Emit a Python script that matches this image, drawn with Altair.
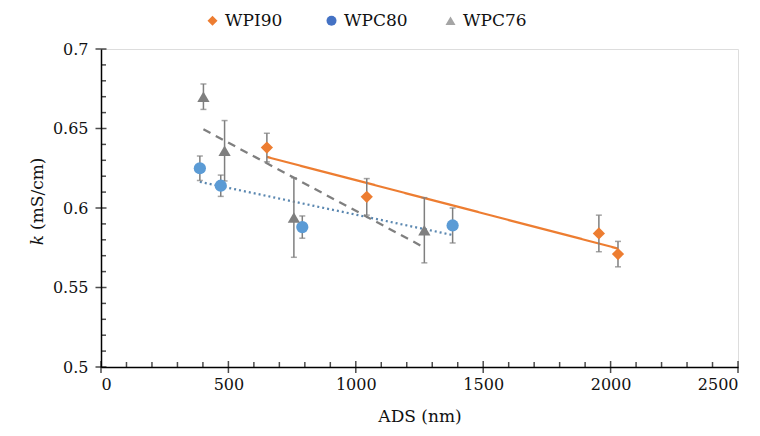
import altair as alt
import pandas as pd

# ---------------- data ----------------
series = ["WPI90", "WPC80", "WPC76"]

wpi90_ads = [651, 1043, 1954, 2029]
wpi90_k = [0.638, 0.607, 0.584, 0.571]
wpi90_err = [0.009, 0.0115, 0.0115, 0.008]

wpc80_ads = [388, 470, 790, 1380]
wpc80_k = [0.625, 0.614, 0.588, 0.589]
wpc80_err = [0.0077, 0.0067, 0.007, 0.011]

wpc76_ads = [402, 485, 757, 1269]
wpc76_k = [0.670, 0.636, 0.594, 0.586]
wpc76_err = [0.008, 0.019, 0.025, 0.0205]

x_ticks = [0, 500, 1000, 1500, 2000, 2500]
y_ticks = [0.5, 0.55, 0.6, 0.65, 0.7]
x_minor = [100, 200, 300, 400, 600, 700, 800, 900, 1100, 1200, 1300, 1400,
           1600, 1700, 1800, 1900, 2100, 2200, 2300, 2400]
y_minor = [0.51, 0.52, 0.53, 0.54, 0.56, 0.57, 0.58, 0.59, 0.61, 0.62, 0.63,
           0.64, 0.66, 0.67, 0.68, 0.69]

x_title = "ADS (nm)"
y_title_italic = "k"
y_title_rest = "(mS/cm)"

# ---------------- styling ----------------
FONT = "DejaVu Serif"
W, H = 637, 318
marker_colors = ["#ED7D31", "#5B9BD5", "#7F7F7F"]
legend_colors = ["#ED7D31", "#4472C4", "#A5A5A5"]
shapes = ["diamond", "circle", "triangle-up"]
marker_sizes = [150, 150, 150]
line_colors = ["#ED7D31", "#5A87B0", "#7F7F7F"]
line_dashes = [[1, 0], [2, 3], [8, 6]]
err_color = "#7F7F7F"

x_scale = alt.Scale(domain=[0, 2500], nice=False, zero=False)
y_scale = alt.Scale(domain=[0.5, 0.7], nice=False, zero=False)

x_axis = alt.Axis(values=x_ticks, format="d", ticks=False, tickSize=0, grid=False,
                  labelFont=FONT, labelFontSize=16, labelColor="#111",
                  labelPadding=9, domainColor="#000", domainWidth=1.5,
                  titleFont=FONT, titleFontSize=17, titleFontWeight="normal",
                  titleColor="#111", titlePadding=16)
y_axis = alt.Axis(values=y_ticks, format=".2~f", ticks=False, tickSize=0, grid=False,
                  labelFont=FONT, labelFontSize=16, labelColor="#111",
                  labelPadding=13, domainColor="#000", domainWidth=1.5,
                  title=None)


def X(field):
    return alt.X(f"{field}:Q", scale=x_scale, axis=x_axis, title=x_title)


def Y(field):
    return alt.Y(f"{field}:Q", scale=y_scale, axis=y_axis, title=None)


groups = [
    (wpi90_ads, wpi90_k, wpi90_err),
    (wpc80_ads, wpc80_k, wpc80_err),
    (wpc76_ads, wpc76_k, wpc76_err),
]

trend_layers, err_layers, point_layers = [], [], []
for i, (ads, k, err) in enumerate(groups):
    df = pd.DataFrame({"ads": ads, "k": k, "err": err})
    base = alt.Chart(df)
    trend_layers.append(
        base.transform_regression("ads", "k")
        .mark_line(color=line_colors[i], strokeWidth=2.25, strokeDash=line_dashes[i])
        .encode(x=X("ads"), y=Y("k"))
    )
    eb = base.transform_calculate(lo="datum.k - datum.err", hi="datum.k + datum.err")
    err_layers.append(
        eb.mark_rule(color=err_color, strokeWidth=1.5)
        .encode(x=X("ads"), y=Y("lo"), y2="hi:Q")
    )
    err_layers.append(
        eb.mark_tick(color=err_color, orient="horizontal", size=6, thickness=1.5)
        .encode(x=X("ads"), y=Y("lo"))
    )
    err_layers.append(
        eb.mark_tick(color=err_color, orient="horizontal", size=6, thickness=1.5)
        .encode(x=X("ads"), y=Y("hi"))
    )
    point_layers.append(
        base.mark_point(shape=shapes[i], filled=True, opacity=1,
                        color=marker_colors[i], size=marker_sizes[i])
        .encode(x=X("ads"), y=Y("k"))
    )

# axis tick marks (major ticks cross the axis, minor ticks point inward)
xt = alt.Chart(pd.DataFrame({"v": x_ticks})).mark_tick(
    orient="vertical", size=12, thickness=1.5, color="#000").encode(x=X("v"), y=alt.value(H))
xm = alt.Chart(pd.DataFrame({"v": x_minor})).mark_tick(
    orient="vertical", size=5, thickness=1.5, color="#000").encode(x=X("v"), y=alt.value(H - 2.5))
yt = alt.Chart(pd.DataFrame({"v": y_ticks})).mark_tick(
    orient="horizontal", size=11, thickness=1.5, color="#000").encode(y=Y("v"), x=alt.value(0))
ym = alt.Chart(pd.DataFrame({"v": y_minor})).mark_tick(
    orient="horizontal", size=5, thickness=1.5, color="#000").encode(y=Y("v"), x=alt.value(2.5))

# y-axis title with italic k
tdf = pd.DataFrame({"a": [y_title_italic], "b": [y_title_rest]})
yt1 = alt.Chart(tdf).mark_text(angle=270, align="right", baseline="middle", font=FONT,
                               fontSize=17, fontStyle="italic", color="#111").encode(
    text="a:N", x=alt.value(-63), y=alt.value(186))
yt2 = alt.Chart(tdf).mark_text(angle=270, align="left", baseline="middle", font=FONT,
                               fontSize=17, color="#111", dx=5).encode(
    text="b:N", x=alt.value(-63), y=alt.value(186))

# legend (symbols only, no drawn data)
leg = alt.Legend(orient="none", direction="horizontal", legendX=103, legendY=-37,
                 title=None, labelFont=FONT, labelFontSize=17, labelColor="#111",
                 symbolSize=100, symbolStrokeWidth=0, columnPadding=34,
                 gridAlign="all", labelOffset=4, padding=0)
legend_layer = alt.Chart(pd.DataFrame({"series": series})).transform_filter(
    "false").mark_point(filled=True, opacity=1).encode(
    color=alt.Color("series:N", scale=alt.Scale(domain=series, range=legend_colors), legend=leg),
    shape=alt.Shape("series:N", scale=alt.Scale(domain=series, range=shapes), legend=leg),
)

chart = alt.layer(
    *trend_layers, *err_layers, *point_layers, xt, xm, yt, ym, yt1, yt2, legend_layer
).properties(
    width=W, height=H,
    autosize=alt.AutoSizeParams(type="none"),
    padding={"left": 93, "top": 41, "right": 14, "bottom": 61},
).configure_view(stroke=None).configure(background="white")

chart.save("out.html", embed_options={"renderer": "svg", "actions": False})
